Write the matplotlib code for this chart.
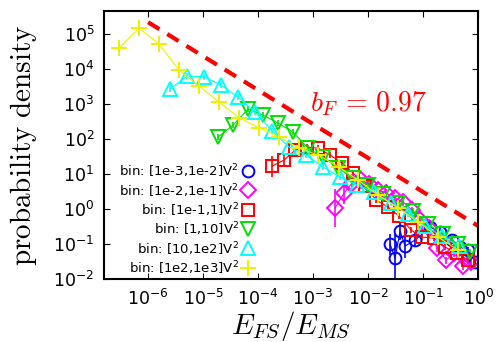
import numpy as np
import matplotlib
matplotlib.use("Agg")
import matplotlib.pyplot as plt
from matplotlib.lines import Line2D
from matplotlib.ticker import FixedLocator, FuncFormatter, NullLocator

plt.rcParams['font.family'] = ['DejaVu Sans']
plt.rcParams['mathtext.fontset'] = 'cm'

# --- data ---
blue_x = [2.51e-2, 3.1e-2, 3.82e-2, 4.71e-2, 7.16e-2, 0.134, 0.204, 0.337, 0.471, 0.658, 0.881]
blue_y = [0.1, 0.04, 0.235, 0.088, 0.13, 0.306, 0.22, 0.13, 0.082, 0.067, 0.031]
blue_err = [0.3, 0.7, 0.25, 0.35, 0.2, 0.15, 0.15, 0.12, 0.12, 0.1, 0.1]

magenta_x = [2.51e-3, 3.66e-3, 5.12e-3, 7.46e-3, 1.04e-2, 1.52e-2, 2.12e-2, 3.1e-2, 4.33e-2,
             6.31e-2, 8.82e-2, 0.129, 0.18, 0.262, 0.366, 0.534, 0.746]
magenta_y = [1.07, 2.87, 5.53, 6.74, 5.18, 3.49, 2.87, 2.06, 1.58,
             0.936, 0.485, 0.287, 0.077, 0.035, 0.055, 0.0235, 0.0306]
magenta_err = [0.55, 0.3, 0.15, 0.1, 0.1, 0.1, 0.1, 0.1, 0.1,
               0.1, 0.1, 0.1, 0.1, 0.1, 0.1, 0.1, 0.1]

red_x = [1.8e-4, 2.97e-4, 4.71e-4, 7.78e-4, 1.23e-3, 2.04e-3, 3.37e-3, 5.34e-3, 8.82e-3,
         1.4e-2, 2.31e-2, 3.66e-2, 6.05e-2, 9.6e-2, 0.158, 0.251, 0.415, 0.658]
red_y = [16.9, 25.1, 48.5, 59, 55, 34.9, 20.6, 10.7, 4.54,
         1.81, 1.14, 0.63, 0.251, 0.158, 0.148, 0.082, 0.055, 0.035]
red_err = [0.3, 0.15, 0.1, 0.08, 0.08, 0.08, 0.08, 0.08, 0.08,
           0.08, 0.08, 0.08, 0.08, 0.08, 0.08, 0.08, 0.08, 0.08]

green_x = [1.87e-5, 3.51e-5, 6.58e-5, 1.23e-4, 2.31e-4, 4.33e-4, 8.11e-4, 1.52e-3, 2.85e-3,
           5.34e-3, 1e-2, 1.87e-2, 3.51e-2, 6.58e-2, 0.123, 0.231, 0.433, 0.716]
green_y = [114, 251, 720, 485, 286, 158, 55, 30.6, 14.8,
           7.7, 4.85, 2.68, 1.48, 0.877, 0.373, 0.193, 0.1, 0.059]

cyan_x = [2.51e-6, 5.12e-6, 1.04e-5, 2.12e-5, 4.33e-5, 8.82e-5, 1.8e-4, 3.66e-4, 7.46e-4,
          1.52e-3, 3.1e-3, 6.31e-3, 1.29e-2, 2.62e-2, 5.34e-2, 0.109, 0.221, 0.451]
cyan_y = [2680, 6310, 6000, 3490, 1580, 591, 169, 59, 34.9,
          15.8, 8.2, 4.85, 3.06, 1.48, 0.72, 0.327, 0.169, 0.088]

yellow_x = [2.97e-7, 6.86e-7, 1.58e-6, 3.66e-6, 8.46e-6, 1.95e-5, 4.52e-5, 1.04e-4, 2.41e-4,
            5.56e-4, 1.23e-3, 2.97e-3, 6.58e-3, 1.52e-2, 3.51e-2, 8.11e-2, 0.187, 0.433]
yellow_y = [3.98e4, 1.48e5, 5.18e4, 9360, 3270, 1140, 400, 210, 114,
            55, 35, 15.8, 6.7, 2.5, 1.07, 0.43, 0.158, 0.067]

labels = ['bin: [1e-3,1e-2]V', 'bin: [1e-2,1e-1]V', 'bin: [1e-1,1]V',
          'bin: [1,10]V', 'bin: [10,1e2]V', 'bin: [1e2,1e3]V']

# power-law guide line
b_F = 0.97
fit_A = 0.33
fit_x = [1e-6, 1.0]

fig = plt.figure(figsize=(4.98, 3.42), dpi=100)
ax = fig.add_axes([0.209, 0.184, 0.751, 0.785])

series = [
    (blue_x, blue_y, blue_err, '#0000ff', 'o', 8.5),
    (magenta_x, magenta_y, magenta_err, '#ff00ff', 'D', 8.0),
    (red_x, red_y, red_err, '#ff0000', 's', 8.5),
    (green_x, green_y, None, '#00e000', 'v', 10.0),
    (cyan_x, cyan_y, None, '#00ffff', '^', 10.0),
    (yellow_x, yellow_y, None, '#f0f000', '+', 11.0),
]

handles = []
for (x, y, err, c, m, ms), lab in zip(series, labels):
    x = np.array(x)
    y = np.array(y)
    if err is None:
        e = np.full(len(y), 0.08)
    else:
        e = np.array(err)
    lo = y - y * 10 ** (-e)
    hi = y * 10 ** e - y
    ax.errorbar(x, y, yerr=[lo, hi], color=c, lw=0.8, elinewidth=1.2,
                marker=m, ms=ms, mfc='none', mec=c, mew=1.4, capsize=0)
    handles.append(Line2D([], [], ls='none', marker=m, ms=ms, mfc='none',
                          mec=c, mew=1.4, label=lab + r'$^\mathdefault{2}$'))

fit_y = [fit_A * v ** (-b_F) for v in fit_x]
ax.plot(fit_x, fit_y, color='#ff0000', ls=(0, (3.2, 2.2)), lw=3)
ax.text(10 ** -3.05, 10 ** 3.0, r'$b_F\,=\,0.97$', color='#ff0000',
        fontsize=20, va='center', ha='left')

ax.set_xscale('log')
ax.set_yscale('log')
ax.set_xlim(10 ** -6.8, 1)
ax.set_ylim(1e-2, 10 ** 5.67)

ax.xaxis.set_major_locator(FixedLocator([10.0 ** k for k in range(-6, 1)]))
ax.yaxis.set_major_locator(FixedLocator([10.0 ** k for k in range(-2, 6)]))
ax.xaxis.set_minor_locator(NullLocator())
ax.yaxis.set_minor_locator(NullLocator())
fmt = FuncFormatter(lambda v, p: r'$\mathdefault{10^{%d}}$' % int(round(np.log10(v))))
ax.xaxis.set_major_formatter(fmt)
ax.yaxis.set_major_formatter(fmt)
ax.tick_params(which='both', direction='in', top=True, right=True,
               length=4, width=0.8, labelsize=12.5, pad=7)
for s in ax.spines.values():
    s.set_linewidth(1.5)

ax.set_ylabel(r'$\mathrm{probability\ density}$', fontsize=21, labelpad=10)
ax.set_xlabel(r'$E_{FS}/E_{MS}$', fontsize=21, labelpad=0)

ax.legend(handles=handles, loc='center right', bbox_to_anchor=(0.40, 0.225),
          markerfirst=False, frameon=False, fontsize=9.5, handlelength=0.9,
          handletextpad=0.2, labelspacing=0.12, borderpad=0, borderaxespad=0)

fig.savefig('out.png', dpi=100)
